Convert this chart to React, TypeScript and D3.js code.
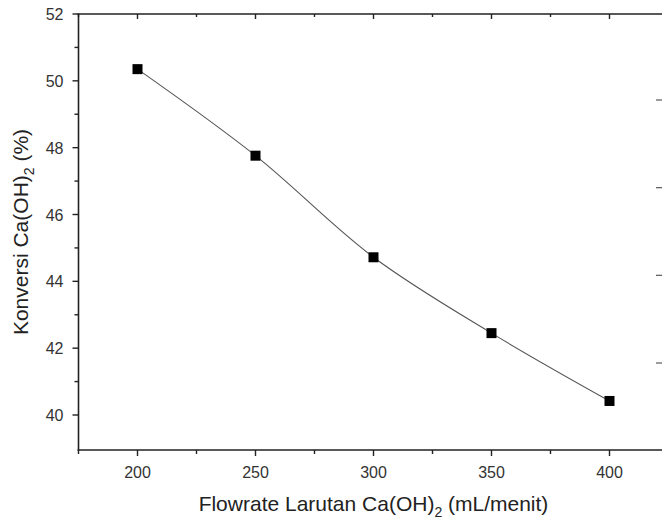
import React from "react";
import * as d3 from "d3";

// Flow rate of Ca(OH)2 solution (mL/menit) and conversion (%)
const flowrates = [200, 250, 300, 350, 400];
const conversions = [50.35, 47.76, 44.72, 42.45, 40.42];

const xTicksMajor = [200, 250, 300, 350, 400];
const xTicksMinor = [175, 225, 275, 325, 375, 425];
const yTicksMajor = [40, 42, 44, 46, 48, 50, 52];
const yTicksMinor = [41, 43, 45, 47, 49, 51];

// Ticks of the neighbouring panel peeking in at the right edge
const sideTicks = [0, 1, 2, 3];

const W = 662;
const H = 521;
const FONT = "'Liberation Sans', Arial, sans-serif";

export default function App() {
  const x = d3.scaleLinear().domain([175, 425]).range([78.5, 668.5]);
  const y = d3.scaleLinear().domain([40, 52]).range([415, 14]);
  const side = d3.scaleLinear().domain([0, 3]).range([100, 363]);

  const line = d3
    .line<number>()
    .x((_, i) => x(flowrates[i]))
    .y((d) => y(d))
    .curve(d3.curveCatmullRom.alpha(0.5));

  const axisColor = "#222";
  const x0 = x(175);
  const xMid = (x(175) + x(425)) / 2;
  const yBottom = 450;
  const yTop = y(52);
  const yMid = (yTop + yBottom) / 2;

  return (
    <svg
      width={W}
      height={H}
      style={{ position: "absolute", left: 0, top: 0, background: "#fff" }}
      fontFamily={FONT}
    >
      <rect width={W} height={H} fill="#fff" />

      {/* frame */}
      <line x1={x0} x2={x0} y1={yTop} y2={yBottom} stroke={axisColor} strokeWidth={1.6} />
      <line x1={x0 - 1} x2={W + 10} y1={yBottom} y2={yBottom} stroke={axisColor} strokeWidth={1.6} />
      <line x1={x0 - 1} x2={W + 10} y1={yTop} y2={yTop} stroke={axisColor} strokeWidth={1.6} />

      {/* bottom and top axis ticks */}
      {xTicksMajor.map((t) => (
        <g key={`xm${t}`}>
          <line x1={x(t)} x2={x(t)} y1={yBottom} y2={yBottom + 6} stroke={axisColor} strokeWidth={1.4} />
          <line x1={x(t)} x2={x(t)} y1={yTop} y2={yTop + 5} stroke={axisColor} strokeWidth={1.4} />
          <text x={x(t)} y={yBottom + 28} textAnchor="middle" fontSize={16} fill="#333">
            {t}
          </text>
        </g>
      ))}
      {xTicksMinor.map((t) => (
        <g key={`xn${t}`}>
          <line x1={x(t)} x2={x(t)} y1={yBottom} y2={yBottom + 4} stroke={axisColor} strokeWidth={1.4} />
          <line x1={x(t)} x2={x(t)} y1={yTop} y2={yTop + 3} stroke={axisColor} strokeWidth={1.4} />
        </g>
      ))}

      {/* left axis ticks */}
      {yTicksMajor.map((t) => (
        <g key={`ym${t}`}>
          <line x1={x0 - 6} x2={x0} y1={y(t)} y2={y(t)} stroke={axisColor} strokeWidth={1.4} />
          <text x={x0 - 15} y={y(t) + 6} textAnchor="end" fontSize={16} fill="#333">
            {t}
          </text>
        </g>
      ))}
      {yTicksMinor.map((t) => (
        <line key={`yn${t}`} x1={x0 - 4} x2={x0} y1={y(t)} y2={y(t)} stroke={axisColor} strokeWidth={1.4} />
      ))}

      {/* ticks of the adjacent panel */}
      {sideTicks.map((t) => (
        <line key={`s${t}`} x1={656} x2={662} y1={side(t)} y2={side(t)} stroke="#666" strokeWidth={1.3} />
      ))}

      {/* curve */}
      <path d={line(conversions) ?? ""} fill="none" stroke="#555" strokeWidth={1.1} />

      {/* markers */}
      {conversions.map((v, i) => (
        <rect
          key={`p${i}`}
          x={x(flowrates[i]) - 5}
          y={y(v) - 5}
          width={10}
          height={10}
          fill="#000"
        />
      ))}

      {/* axis titles */}
      <text x={xMid} y={511} textAnchor="middle" fontSize={21} fill="#222">
        Flowrate Larutan Ca(OH)
        <tspan fontSize={14} dy={6}>2</tspan>
        <tspan dy={-6}> (mL/menit)</tspan>
      </text>
      <text
        transform={`translate(28, ${yMid}) rotate(-90)`}
        textAnchor="middle"
        fontSize={21}
        fill="#222"
      >
        Konversi Ca(OH)
        <tspan fontSize={14} dy={6}>2</tspan>
        <tspan dy={-6}> (%)</tspan>
      </text>
    </svg>
  );
}
